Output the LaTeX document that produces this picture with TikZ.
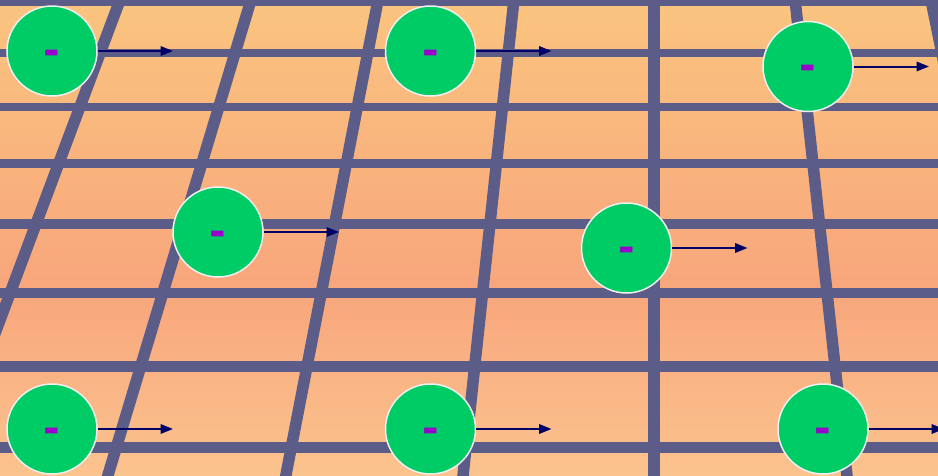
\documentclass[tikz,border=0pt]{standalone}
\usepackage{fontspec}
\newfontfamily\minusfont{DejaVu Sans}
\usetikzlibrary{arrows.meta}
\definecolor{bgtop}{HTML}{FAC47F}
\definecolor{bgmid}{HTML}{F8A67C}
\definecolor{bgbot}{HTML}{FBC38E}
\definecolor{gridc}{HTML}{5C5C88}
\definecolor{chargegreen}{HTML}{00CC66}
\definecolor{minuscol}{HTML}{9900CC}
\definecolor{arrowc}{HTML}{000066}
\definecolor{rimc}{HTML}{F0F0F0}
\tikzset{
  charge/.style={circle, fill=chargegreen, draw=rimc, line width=1.5pt, minimum size=90pt, inner sep=0pt},
  minuslabel/.style={text=minuscol, font=\minusfont\bfseries\fontsize{40}{40}\selectfont, inner sep=0pt},
  velocity/.style={arrowc, line width=2pt, -{Triangle[length=12.5pt,width=9.5pt]}},
  gridline/.style={gridc, line width=#1},
}
\begin{document}
\begin{tikzpicture}[x=1pt,y=-1pt]
\useasboundingbox (0,0) rectangle (938,475);
\begin{scope}
\clip (0,0) rectangle (938,475);
\shade[top color=bgtop, bottom color=bgmid] (0,0) rectangle (938,290);
\shade[top color=bgmid, bottom color=bgbot] (0,289.5) rectangle (938,475);
% horizontal grid lines
\foreach \yy/\w in {2/8, 53/8, 107/8.5, 163/9, 223.5/10, 293/10, 366/11, 447.5/11}
  \draw[gridline=\w pt] (-10,\yy) -- (950,\yy);
% converging grid lines
\foreach \xa/\xb in {123.75/-61.9, 254/105, 380/284, 515/462, 654/654, 794/848, 929/1030}
  \draw[gridline=11.5pt] (\xa,-10) -- (\xb,485);
% charges
\foreach \n/\cx/\cy in {1/52/51, 2/430.5/51, 3/808/66.5, 4/218/232, 5/626.5/248, 6/52/429, 7/430.5/429, 8/823/429} {
  \node[charge] (c\n) at (\cx,\cy) {};
  \node[minuslabel, anchor=base] (m\n) at (\cx,\cy+13) {-};
  \coordinate (a\n) at (\cx+121,\cy);
  \draw[velocity] (c\n) -- (a\n);
}
\end{scope}
\end{tikzpicture}
\end{document}
